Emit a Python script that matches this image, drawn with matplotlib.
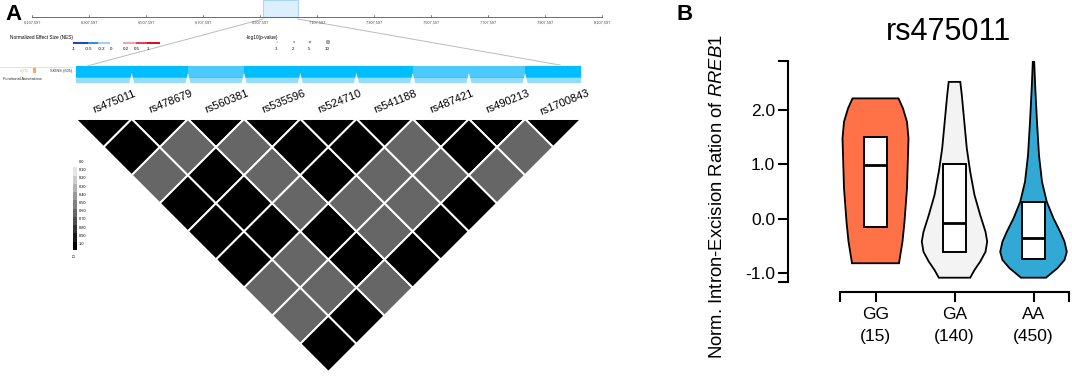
import numpy as np
import matplotlib
matplotlib.use('Agg')
import matplotlib.pyplot as plt
from matplotlib.patches import Polygon, Rectangle, Circle

plt.rcParams['font.family'] = ['Liberation Sans', 'DejaVu Sans']
plt.rcParams['mathtext.fontset'] = 'custom'
plt.rcParams['mathtext.rm'] = 'Liberation Sans'
plt.rcParams['mathtext.it'] = 'Liberation Sans:italic'

# ---------------- Data: panel A ----------------
snps = ['rs475011', 'rs478679', 'rs560381', 'rs535596', 'rs524710',
        'rs541188', 'rs487421', 'rs490213', 'rs1700843']
# D' for pairs (i, j), row i lists j = i+1 .. 8
dprime_rows = [
    [1.0, 0.6, 1.0, 1.0, 1.0, 0.6, 0.6, 1.0],
    [0.6, 1.0, 1.0, 1.0, 0.6, 0.6, 1.0],
    [0.6, 0.6, 0.6, 1.0, 1.0, 0.6],
    [1.0, 1.0, 0.6, 0.6, 1.0],
    [1.0, 0.6, 0.6, 1.0],
    [0.6, 0.6, 1.0],
    [1.0, 0.6],
    [0.6],
]
dprime_diag = [1.0] * 9
track_nes = [-0.6, -0.6, -0.4, -0.6, -0.6, -0.6, -0.4, -0.4, -0.6]
genome_ticks = [6107597, 6307597, 6507597, 6707597, 6907597, 7107597,
                7307597, 7507597, 7707597, 7907597, 8107597]
highlight = [6918000, 7040000]
nes_levels = ['-1', '-0.5', '-0.2', '0', '0.2', '0.5', '1']
nes_colors = ['#1f3fe0', '#2f8ff0', '#9fd0f5', '#f4a0b0', '#e8405a', '#e0101f']
pval_levels = ['1', '2', '5', '10']
pval_sizes = [0.3, 0.6, 1.0, 1.8]
ld_legend_labels = ['0.0', '0.10', '0.20', '0.30', '0.40', '0.50',
                    '0.60', '0.70', '0.80', '0.90', '1.0']

# ---------------- Data: panel B ----------------
genotypes = ['GG', 'GA', 'AA']
counts = [15, 140, 450]
violin_colors = ['#ff7146', '#f3f3f3', '#31a9d4']
q1 = [-0.15, -0.62, -0.74]
medians = [0.99, -0.085, -0.36]
q3 = [1.50, 1.00, 0.30]
gg_y = [2.216, 2.03, 1.785, 1.48, 1.17, 0.56, -0.055, -0.42, -0.82]
gg_w = [23, 27.5, 31.5, 33, 32.5, 31.5, 29, 27, 23.5]
ga_y = [2.52, 2.277, 1.785, 1.296, 0.865, 0.436, 0.068, -0.24, -0.42,
        -0.61, -0.79, -0.944, -1.086]
ga_w = [5.8, 7.3, 9.8, 12.3, 15.7, 20, 25.7, 31, 32.7, 31, 25.7, 20, 15.7]
aa_y = [2.89, 2.40, 1.785, 1.17, 0.68, 0.31, 0.007, -0.24, -0.42, -0.61,
        -0.76, -0.91, -1.086]
aa_w = [0.7, 1.8, 3.5, 5.5, 8.5, 13.3, 20, 26.7, 31, 33.3, 31, 24, 12.5]
profiles = [(gg_y, gg_w), (ga_y, ga_w), (aa_y, aa_w)]

# ---------------- Figure ----------------
W, H = 1072, 376
fig = plt.figure(figsize=(W / 100, H / 100), dpi=100)

# Panel A in pixel coordinates
axA = fig.add_axes([0, 0, 690 / W, 1])
axA.set_xlim(0, 690)
axA.set_ylim(H, 0)
axA.axis('off')

gx0, gx1, gy = 32, 602, 17
def gx(p):
    return gx0 + (p - genome_ticks[0]) / (genome_ticks[-1] - genome_ticks[0]) * (gx1 - gx0)

# highlight box
axA.add_patch(Rectangle((gx(highlight[0]), 0), gx(highlight[1]) - gx(highlight[0]), gy,
                        facecolor='#dceffc', edgecolor='#a9d6f6', lw=0.8))
axA.plot([gx0, gx1], [gy, gy], color='#555555', lw=0.6)
for t in genome_ticks:
    axA.plot([gx(t), gx(t)], [gy, gy - 2], color='#555555', lw=0.5)
    axA.text(gx(t), gy + 6, f'{t:,}', fontsize=2.8, ha='center', va='center', color='#444444')

# NES legend
axA.text(10, 38, 'Normalized Effect Size (NES)', fontsize=3.4, ha='left', va='center')
nes_x = [73, 88, 98, 110, 123, 136, 147, 160]
for k, c in enumerate(nes_colors):
    if k < 3:
        xa, xb = nes_x[k], nes_x[k + 1]
    else:
        xa, xb = nes_x[k + 1], nes_x[k + 2]
    axA.add_patch(Rectangle((xa, 41.8), xb - xa, 2.2, facecolor=c, edgecolor='none'))
nes_lab_x = [74, 89, 102, 111, 126, 137, 148]
for lab, x in zip(nes_levels, nes_lab_x):
    axA.text(x, 48.5, lab, fontsize=3.2, ha='center', va='center')

# p-value legend
axA.text(246, 38, '-log10(p-value)', fontsize=3.4, ha='left', va='center')
pv_x = [276, 293, 309, 327]
for lab, x, s in zip(pval_levels, pv_x, pval_sizes):
    axA.add_patch(Circle((x + 1, 42), s, facecolor='#aaaaaa', edgecolor='#777777', lw=0.3))
    axA.text(x, 48.5, lab, fontsize=3.2, ha='center', va='center')

# Track
tx0, d = 75.5, 56.2
ttop, tmid, tbot = 66, 78, 82.5
axA.plot([0, 72], [67, 67], color='#fbd3a3', lw=0.6)
axA.add_patch(Rectangle((33, 67), 3, 6, facecolor='#f9a860', edgecolor='none'))
axA.text(25, 71, 'eQTL', fontsize=2.8, color='#f4a460', ha='center', va='center')
axA.text(50, 71, 'SKINS (605)', fontsize=2.8, color='#333333', ha='left', va='center')
axA.text(3, 79, 'Functional Annotations', fontsize=2.8, color='#222222', ha='left', va='center')
for i, nes in enumerate(track_nes):
    col = '#00bdfe' if nes <= -0.5 else '#4ccafe'
    xa = tx0 + i * d
    axA.add_patch(Rectangle((xa, ttop), d, tmid - ttop, facecolor=col, edgecolor='none'))
    axA.add_patch(Rectangle((xa, tmid), d, tbot - tmid, facecolor='#94dcfd', edgecolor='none'))
    axA.add_patch(Rectangle((xa, tmid - 1.2), d, 1.2, facecolor='#33c4fe', edgecolor='none'))
for i in range(1, 9):
    xb = tx0 + i * d
    axA.add_patch(Polygon([(xb - 2.5, tbot + 0.3), (xb + 2.5, tbot + 0.3), (xb, tmid - 5)],
                          closed=True, facecolor='white', edgecolor='none'))

# zoom lines
axA.plot([gx(highlight[0]), 87], [gy + 2, ttop], color='#bbbbbb', lw=0.7)
axA.plot([gx(highlight[1]), 560], [gy + 2, ttop - 1], color='#bbbbbb', lw=0.7)

# SNP labels
for i, s in enumerate(snps):
    axA.text(tx0 + (i + 0.5) * d + 11, 102, s, fontsize=8, rotation=22,
             ha='center', va='center')

# LD triangle
ltop = 119
for i in range(9):
    cx = tx0 + (i + 0.5) * d
    v = dprime_diag[i]
    axA.add_patch(Polygon([(cx - d / 2, ltop), (cx + d / 2, ltop), (cx, ltop + d / 2)],
                          closed=True, facecolor=str(1 - v), edgecolor='white', lw=1.4))
for i, row in enumerate(dprime_rows):
    for k, v in enumerate(row):
        j = i + 1 + k
        cx = tx0 + ((i + j) / 2 + 0.5) * d
        cy = ltop + (j - i) * d / 2
        axA.add_patch(Polygon([(cx - d / 2, cy), (cx, cy - d / 2), (cx + d / 2, cy), (cx, cy + d / 2)],
                              closed=True, facecolor=str(round(1 - v, 3)), edgecolor='white', lw=1.4))

# LD legend
ly0, ly1 = 159, 250
nb = len(ld_legend_labels)
bh = (ly1 - ly0) / nb
for k in range(nb):
    axA.add_patch(Rectangle((72.7, ly0 + k * bh), 4, bh,
                            facecolor=str(1 - k / (nb - 1)), edgecolor='none'))
for k, lab in enumerate(ld_legend_labels):
    axA.text(78.5, 162 + k * 8.2, lab, fontsize=2.8, ha='left', va='center')
axA.text(74.5, 255, "D'", fontsize=3, rotation=90, ha='center', va='center')

fig.text(5 / W, 1 - 20 / H, 'A', fontsize=16, fontweight='bold', ha='left', va='baseline')
fig.text(677 / W, 1 - 20 / H, 'B', fontsize=16, fontweight='bold', ha='left', va='baseline')

# ---------------- Panel B ----------------
y_top = 2.91
y_bot = -1.344
ax_l, ax_r = 840, 1069
ax_t, ax_b = 60.7, 291.7
axB = fig.add_axes([ax_l / W, 1 - ax_b / H, (ax_r - ax_l) / W, (ax_b - ax_t) / H])
xunit = 79.0
xl = 1 - (875.5 - ax_l) / xunit
axB.set_xlim(xl, xl + (ax_r - ax_l) / xunit)
axB.set_ylim(y_bot, y_top)

for k, ((vy, vw), col) in enumerate(zip(profiles, violin_colors)):
    pos = k + 1
    vy = np.array(vy)
    vw = np.array(vw) / xunit
    xs = np.concatenate([pos - vw, (pos + vw)[::-1]])
    ys = np.concatenate([vy, vy[::-1]])
    axB.fill(xs, ys, facecolor=col, edgecolor='black', lw=1.3, zorder=2)
    bw = 11.7 / xunit
    axB.add_patch(Rectangle((pos - bw, q1[k]), 2 * bw, q3[k] - q1[k], facecolor='white',
                            edgecolor='black', lw=1.4, zorder=3))
    axB.plot([pos - bw, pos + bw], [medians[k], medians[k]], color='black', lw=2.0,
             zorder=4, solid_capstyle='butt')

for s in ['top', 'right']:
    axB.spines[s].set_visible(False)
axB.spines['left'].set_position(('outward', (ax_l - 788) * 0.72))
axB.spines['left'].set_bounds(-1.16, 2.9)
for s in ['left', 'bottom']:
    axB.spines[s].set_linewidth(1.5)
axB.set_yticks([-1, 0, 1, 2])
axB.set_yticklabels(['-1.0', '0.0', '1.0', '2.0'])
axB.set_yticks([-1.16, 2.9], minor=True)
axB.set_xticks([1, 2, 3])
axB.set_xticklabels([f'{g}\n({n})' for g, n in zip(genotypes, counts)], linespacing=1.6)
axB.set_xticks(list(axB.get_xlim()), minor=True)
axB.tick_params(axis='both', which='both', length=7.2, width=1.5, labelsize=12.5, pad=2)
axB.tick_params(axis='x', which='major', pad=4)

fig.text(949 / W, 1 - 32 / H, 'rs475011', fontsize=22, ha='center', va='center')
fig.text(718 / W, 1 - 197 / H, 'Norm. Intron-Excision Ration of $\\it{RREB1}$',
         fontsize=13.3, rotation=90, ha='center', va='center')

fig.savefig('out.png', dpi=100)
